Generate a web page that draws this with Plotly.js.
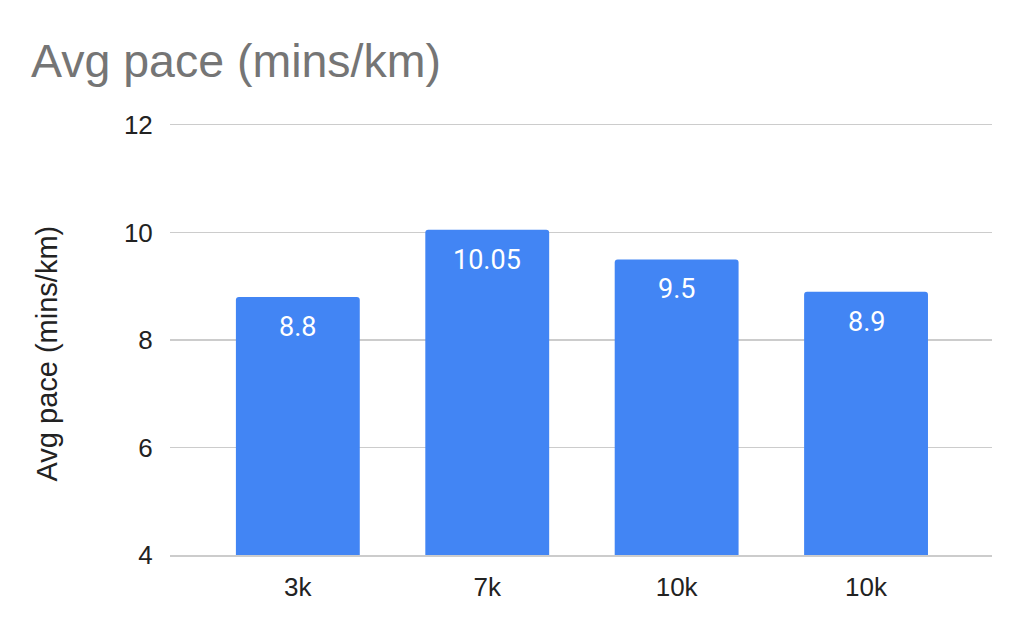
<!DOCTYPE html>
<html>
<head>
<meta charset="utf-8">
<script src="https://cdn.plot.ly/plotly-3.0.1.min.js"></script>
<style>html,body{margin:0;padding:0;background:#fff}#chart{width:1024px;height:634px}</style>
</head>
<body>
<div id="chart"></div>
<script>
const categories = ['3k', '7k', '10k', '10k'];
const paceValues = [8.8, 10.05, 9.5, 8.9];
const yTickValues = [4, 6, 8, 10, 12];
const chartTitle = 'Avg pace (mins/km)';
const yAxisTitle = 'Avg pace (mins/km)';

const positions = categories.map((_, i) => i);

const trace = {
  type: 'bar',
  x: positions,
  y: paceValues,
  width: 0.654,
  marker: { color: '#4285F4', cornerradius: 3 },
  hoverinfo: 'none'
};

const valueAnnotations = positions.map((p, i) => ({
  x: p, y: paceValues[i], xref: 'x', yref: 'y',
  text: String(paceValues[i]),
  showarrow: false, yanchor: 'middle', yshift: -30,
  font: { family: 'Roboto, Arial, sans-serif', size: 27, color: '#ffffff' }
}));

const layout = {
  width: 1024, height: 634,
  margin: { l: 170, r: 32, t: 125, b: 79 },
  paper_bgcolor: '#ffffff', plot_bgcolor: '#ffffff',
  showlegend: false,
  title: {
    text: chartTitle, x: 31 / 1024, xref: 'container', xanchor: 'left',
    y: 1 - 77/634, yref: 'container', yanchor: 'bottom',
    font: { family: 'Liberation Sans, Arial, sans-serif', size: 46.5, color: '#757575' }
  },
  xaxis: {
    range: [-0.675, 3.665],
    tickvals: positions, ticktext: categories,
    showgrid: false, zeroline: false,
    showline: true, mirror: true, linecolor: '#cccccc', linewidth: 1.5,
    ticks: 'outside', ticklen: 8, tickcolor: 'rgba(0,0,0,0)',
    tickfont: { family: 'Liberation Sans, Arial, sans-serif', size: 26, color: '#222222' },
    fixedrange: true
  },
  yaxis: {
    range: [4, 12],
    tickvals: yTickValues, ticktext: yTickValues.map(String),
    showgrid: true, gridcolor: '#cccccc', gridwidth: 1.5,
    zeroline: false, showline: false,
    ticks: 'outside', ticklen: 11, tickcolor: 'rgba(0,0,0,0)',
    tickfont: { family: 'Liberation Sans, Arial, sans-serif', size: 26, color: '#222222' },
    fixedrange: true
  },
  annotations: valueAnnotations.concat([{
    text: yAxisTitle, textangle: -90, showarrow: false,
    xref: 'paper', yref: 'paper',
    x: -(170 - 46) / 822, y: (634 - 79 - 353.5) / 430,
    xanchor: 'center', yanchor: 'middle',
    font: { family: 'Liberation Sans, Arial, sans-serif', size: 29, color: '#222222' }
  }])
};

Plotly.newPlot('chart', [trace], layout, { displayModeBar: false, staticPlot: true });
</script>
</body>
</html>
